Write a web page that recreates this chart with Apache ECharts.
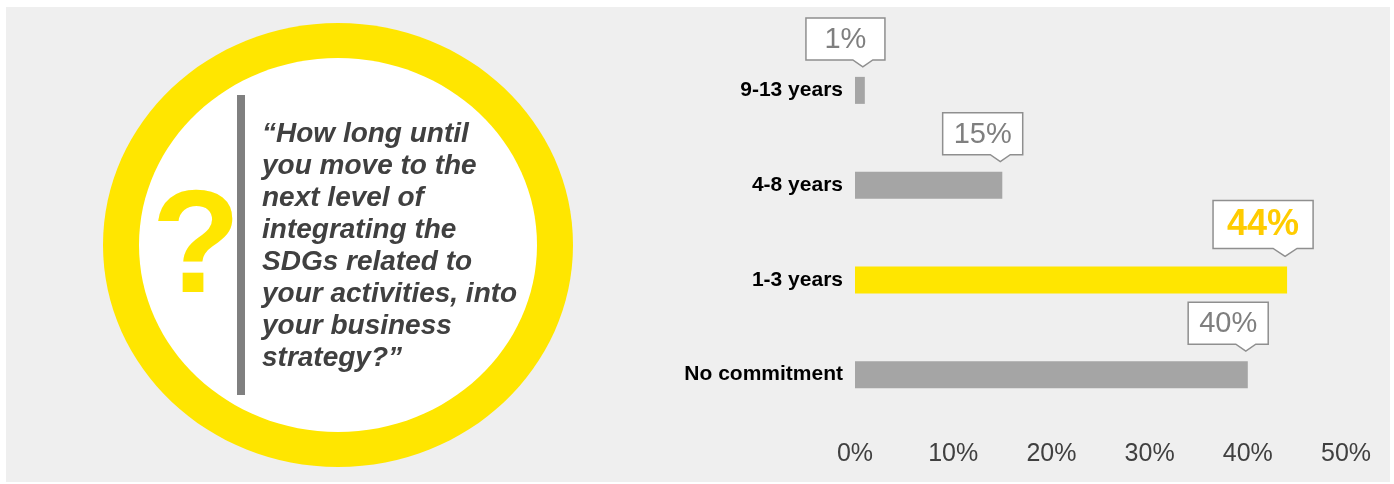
<!DOCTYPE html>
<html><head><meta charset="utf-8">
<script src="https://cdn.jsdelivr.net/npm/echarts@6/dist/echarts.min.js"></script>
<style>html,body{margin:0;padding:0;background:#fff}#c{width:1394px;height:484px}</style>
</head><body><div id="c"></div>
<script>
// ---- data ----
const categories = ['No commitment', '1-3 years', '4-8 years', '9-13 years'];
const values = [40, 44, 15, 1];
const highlightCategory = '1-3 years';
const xTicks = [0, 10, 20, 30, 40, 50];
const questionMark = '?';
const questionLines = [
  '“How long until',
  'you move to the',
  'next level of',
  'integrating the',
  'SDGs related to',
  'your activities, into',
  'your business',
  'strategy?”'
];

// ---- styles ----
const YELLOW = '#FFE600';
const GREY_BAR = '#A5A5A5';
const BG = '#EFEFEF';
const FONT = '"Liberation Sans", Arial, Helvetica, sans-serif';
const BAR_H = 27;

const mctx = document.createElement('canvas').getContext('2d');
function textWidth(font, t) { mctx.font = font; return mctx.measureText(t).width; }

function renderCallout(params, api) {
  const v = api.value(0), ci = api.value(1);
  const end = api.coord([v, ci]);
  const hl = categories[ci] === highlightCategory;
  const text = v + '%';
  const fontSize = hl ? 36 : 29;
  const fontWeight = hl ? 'bold' : 'normal';
  const font = fontWeight + ' ' + fontSize + 'px ' + FONT;
  const w = Math.max(79, textWidth(font, text) + (hl ? 28 : 22));
  const h = hl ? 48 : 42;
  const ph = hl ? 8 : 7, pw = hl ? 12 : 10;
  const tipX = end[0] - 2;
  const tipY = end[1] - BAR_H / 2 - 10;
  const bottom = tipY - ph, top = bottom - h;
  const left = tipX - 0.72 * w, right = left + w;
  return {
    type: 'group',
    children: [
      { type: 'polygon',
        shape: { points: [[left, top], [right, top], [right, bottom], [tipX + pw, bottom], [tipX, tipY], [tipX - pw, bottom], [left, bottom]] },
        style: { fill: '#fff', stroke: '#8f8f8f', lineWidth: 1.5 } },
      { type: 'text', x: (left + right) / 2, y: (top + bottom) / 2 + 1,
        style: { text: text, fontSize: fontSize, fontWeight: fontWeight, fontFamily: FONT,
                 fill: hl ? '#FFCC00' : '#7f7f7f', align: 'center', verticalAlign: 'middle' } }
    ]
  };
}

const chart = echarts.init(document.getElementById('c'), null, { renderer: 'canvas' });
chart.setOption({
  animation: false,
  backgroundColor: '#fff',
  graphic: [
    { type: 'rect', silent: true, z: -10, shape: { x: 6, y: 7, width: 1384, height: 475 }, style: { fill: BG } },
    { type: 'ellipse', silent: true, z: -5, shape: { cx: 338, cy: 245, rx: 235, ry: 222 }, style: { fill: YELLOW } },
    { type: 'ellipse', silent: true, z: -4, shape: { cx: 338, cy: 245, rx: 199, ry: 187 }, style: { fill: '#fff' } },
    { type: 'rect', silent: true, z: -3, shape: { x: 237, y: 95, width: 8, height: 300 }, style: { fill: '#808080' } },
    { type: 'text', silent: true, z: -3, x: 196, y: 252,
      style: { text: questionMark, fontSize: 146, fontWeight: 'bold', fontFamily: FONT, fill: YELLOW, align: 'center', verticalAlign: 'middle' } },
    { type: 'text', silent: true, z: -3, x: 262, y: 118,
      style: { text: questionLines.join('\n'), fontSize: 28, fontWeight: 'bold', fontStyle: 'italic', fontFamily: FONT,
               fill: '#404040', lineHeight: 32, align: 'left', verticalAlign: 'top' } }
  ],
  grid: { left: 855, right: 48, top: 43, bottom: 62, containLabel: false },
  xAxis: {
    type: 'value', min: xTicks[0], max: xTicks[xTicks.length - 1], interval: xTicks[1] - xTicks[0],
    axisLine: { show: false }, axisTick: { show: false }, splitLine: { show: false },
    axisLabel: { formatter: '{value}%', fontSize: 25, color: '#404040', fontFamily: FONT, margin: 20 }
  },
  yAxis: {
    type: 'category', data: categories,
    axisLine: { show: false }, axisTick: { show: false }, splitLine: { show: false },
    axisLabel: { fontSize: 21, fontWeight: 'bold', color: '#000', fontFamily: FONT, margin: 12 }
  },
  series: [
    { type: 'bar', barWidth: BAR_H, silent: true,
      data: values.map((v, i) => ({ value: v, itemStyle: { color: categories[i] === highlightCategory ? YELLOW : GREY_BAR } })) },
    { type: 'custom', silent: true, clip: false, z: 5, renderItem: renderCallout,
      encode: { x: 0, y: 1 },
      data: values.map((v, i) => [v, i]) }
  ]
});
</script>
</body></html>
